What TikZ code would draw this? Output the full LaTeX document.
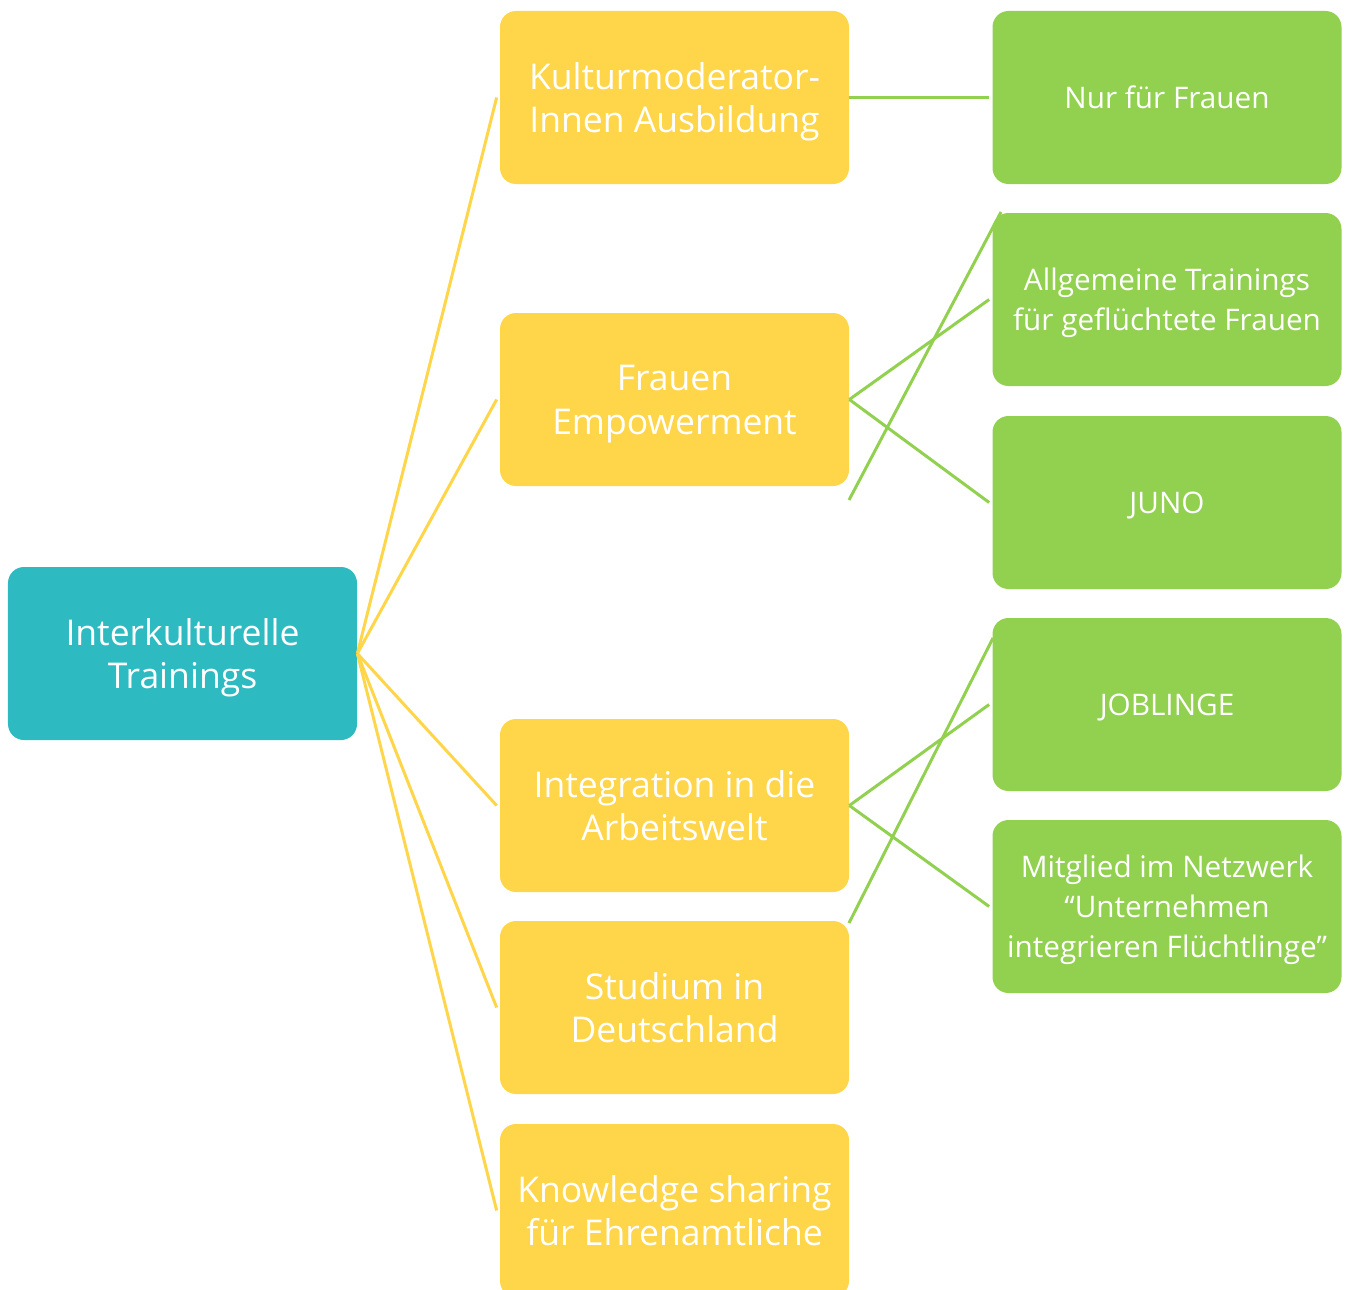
\documentclass[tikz,border=0pt]{standalone}
\usepackage{fontspec}
\setmainfont{Open Sans}
\usepackage{tikz}
\usetikzlibrary{arrows}

\definecolor{turquesa}{HTML}{2EBAC1}
\definecolor{amarillo}{HTML}{FFD54A}
\definecolor{verde}{HTML}{92D050}

\tikzset{
  caja/.style={rectangle,rounded corners=0.32cm,minimum width=6.98cm,minimum height=3.46cm,
    text=white,align=center,inner sep=0pt,text depth=0pt},
  raiz/.style={caja,fill=turquesa,font=\fontsize{20.2}{25}\selectfont},
  medio/.style={caja,fill=amarillo,font=\fontsize{20.2}{25}\selectfont},
  hoja/.style={caja,fill=verde,font=\fontsize{16.9}{22.7}\selectfont},
  lamarilla/.style={amarillo,line width=1.7pt},
  lverde/.style={verde,line width=1.7pt}
}

\begin{document}
\begin{tikzpicture}
%area de la figura
\useasboundingbox (0,0) rectangle (27,-25.78);

%Caja principal
\node[raiz] (train) at (3.65,-13.07) {Interkulturelle\\Trainings};

%Cajas amarillas
\node[medio] (kultur) at (13.49,-1.95) {Kulturmoderator-\\Innen Ausbildung};
\node[medio] (frauen) at (13.49,-7.99) {Frauen\\Empowerment};
\node[medio] (arbeit) at (13.49,-16.11) {Integration in die\\Arbeitswelt};
\node[medio] (studium) at (13.49,-20.15) {Studium in\\Deutschland};
\node[medio] (wissen) at (13.49,-24.21) {Knowledge sharing\\für Ehrenamtliche};

%Cajas verdes
\node[hoja] (nur) at (23.34,-1.95) {Nur für Frauen};
\node[hoja] (allg) at (23.34,-5.99) {Allgemeine Trainings\\für geflüchtete Frauen};
\node[hoja] (juno) at (23.34,-10.05) {JUNO};
\node[hoja] (job) at (23.34,-14.09) {JOBLINGE};
\node[hoja] (netz) at (23.34,-18.13) {Mitglied im Netzwerk\\“Unternehmen\\integrieren Flüchtlinge”};

%Lineas amarillas
\foreach \m in {kultur,frauen,arbeit,studium,wissen}
	\draw[lamarilla] (train.east) -- ([xshift=-0.06cm]\m.west);

%Lineas verdes
\draw[lverde] (kultur.east) -- ([xshift=-0.06cm]nur.west);
\draw[lverde] (frauen.east) -- ([xshift=-0.06cm]allg.west);
\draw[lverde] (frauen.east) -- ([xshift=-0.06cm]juno.west);
\draw[lverde] (arbeit.east) -- ([xshift=-0.06cm]job.west);
\draw[lverde] (arbeit.east) -- ([xshift=-0.06cm]netz.west);

%Lineas sueltas
\coordinate (s1) at (16.98,-10.0);
\coordinate (e1) at (20.02,-4.24);
\coordinate (s2) at (16.98,-18.46);
\coordinate (e2) at (19.86,-12.76);
\draw[lverde] (s1) -- (e1);
\draw[lverde] (s2) -- (e2);
\end{tikzpicture}
\end{document}
